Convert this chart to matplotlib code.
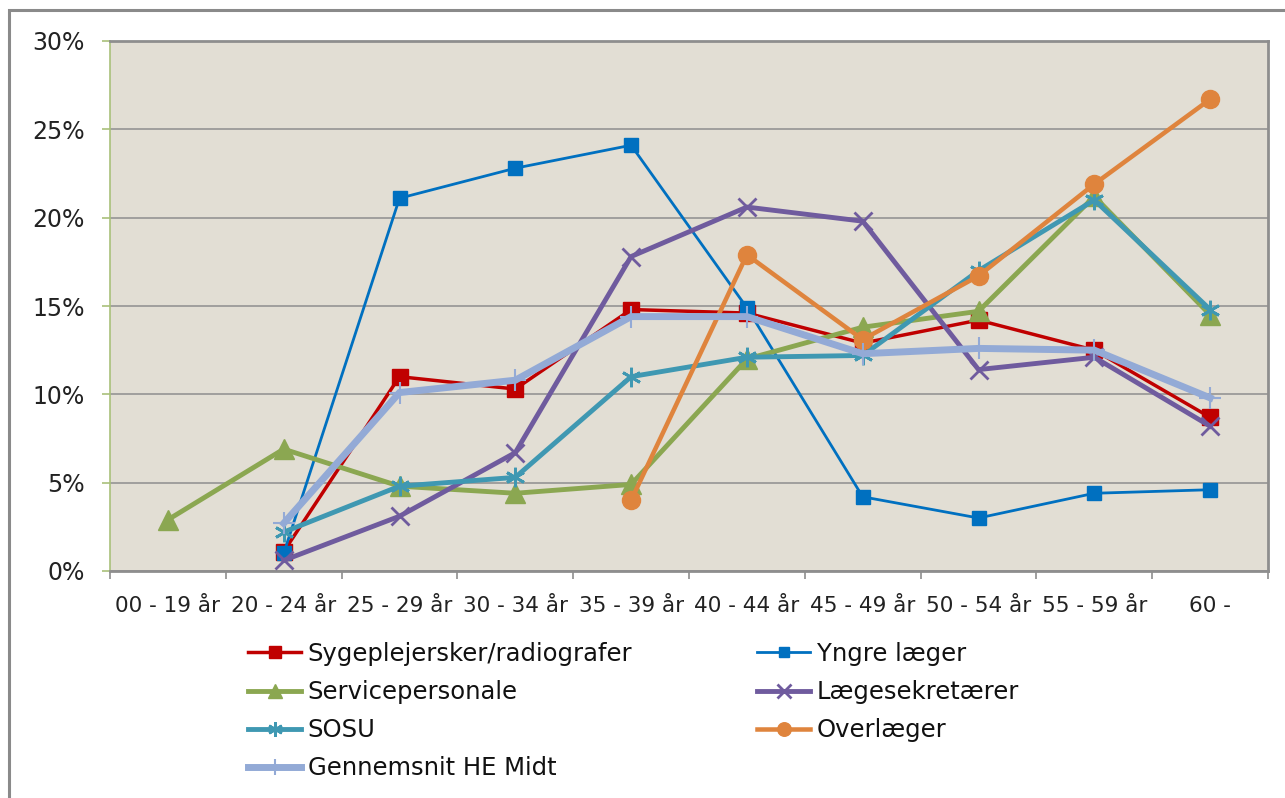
import numpy as np
import matplotlib
matplotlib.use("Agg")
import matplotlib.pyplot as plt
from matplotlib.patches import Rectangle
from matplotlib.ticker import FixedLocator, PercentFormatter

# age groups
categories = ["00 - 19 år", "20 - 24 år", "25 - 29 år", "30 - 34 år", "35 - 39 år",
              "40 - 44 år", "45 - 49 år", "50 - 54 år", "55 - 59 år", "60 -"]
nan = np.nan

# share per age group, in percent
sygeplejersker = [nan, 1.1, 11.0, 10.3, 14.8, 14.6, 12.9, 14.2, 12.5, 8.7]
yngre_laeger = [nan, 1.0, 21.1, 22.8, 24.1, 14.9, 4.2, 3.0, 4.4, 4.6]
service = [2.9, 6.9, 4.8, 4.4, 4.9, 12.0, 13.8, 14.7, 21.2, 14.5]
laegesekretaerer = [nan, 0.6, 3.1, 6.7, 17.8, 20.6, 19.8, 11.4, 12.1, 8.2]
sosu = [nan, 2.2, 4.8, 5.3, 11.0, 12.1, 12.2, 17.0, 21.0, 14.8]
overlaeger = [nan, nan, nan, nan, 4.0, 17.9, 13.1, 16.7, 21.9, 26.7]
gennemsnit = [nan, 2.7, 10.1, 10.8, 14.4, 14.4, 12.3, 12.6, 12.5, 9.8]

series = [
    ("Sygeplejersker/radiografer", sygeplejersker, "#C00000", 2.5, "s", 11, 1),
    ("Yngre læger", yngre_laeger, "#0070C0", 2.0, "s", 10.5, 1),
    ("Servicepersonale", service, "#8BA751", 3.5, "^", 14, 1),
    ("Lægesekretærer", laegesekretaerer, "#6F5B9E", 3.5, "x", 13, 2),
    ("SOSU", sosu, "#3F98B2", 3.5, (6, 2, 0), 14, 2),
    ("Overlæger", overlaeger, "#DF843D", 3.25, "o", 13, 1),
    ("Gennemsnit HE Midt", gennemsnit, "#93AAD6", 5.0, "+", 16, 1.5),
]

W, H = 1285, 798
fig = plt.figure(figsize=(W / 100, H / 100), dpi=100)
ax = fig.add_axes([110 / W, 1 - 571 / H, (1268 - 110) / W, (571 - 41) / H])
ax.set_facecolor("#E2DED4")

x = np.arange(len(categories))
handles = []
for i, (name, vals, col, lw, mk, ms, mew) in enumerate(series):
    ln, = ax.plot(x, vals, color=col, lw=lw, marker=mk, markersize=ms,
                  markeredgewidth=mew, markeredgecolor=col, markerfacecolor=col,
                  label=name, zorder=3 + i, solid_joinstyle="miter")
    handles.append(ln)

ax.set_xlim(-0.5, len(categories) - 0.5)
ax.set_ylim(0, 30)
ax.yaxis.set_major_locator(FixedLocator([0, 5, 10, 15, 20, 25, 30]))
ax.yaxis.set_major_formatter(PercentFormatter(decimals=0))
ax.grid(axis="y", color="#8E8E8E", lw=1.1, zorder=1)
ax.set_axisbelow(True)

# x ticks at category boundaries, labels at centres
ax.set_xticks(np.arange(-0.5, len(categories)), labels=[])
ax.set_xticks(x, labels=categories, minor=True)
ax.tick_params(axis="x", which="major", length=6, width=1.2, color="#8E8E8E", direction="out")
ax.tick_params(axis="x", which="minor", length=0, pad=18, labelsize=15.5, labelcolor="#222222")
ax.tick_params(axis="y", length=6, width=1.2, color="#A9C07A", pad=12, labelsize=17, labelcolor="#222222")

for side in ["top", "right", "bottom"]:
    ax.spines[side].set_color("#8E8E8E")
    ax.spines[side].set_linewidth(2)
ax.spines["left"].set_color("#A9C07A")
ax.spines["left"].set_linewidth(1.2)

# outer chart frame
fig.patches.append(Rectangle((9 / W, -0.1), 1.2, 1.1 - 10 / H, transform=fig.transFigure,
                             fill=False, edgecolor="#8A8A8A", lw=2.2))

leg_kw = dict(loc="upper left", frameon=False, fontsize=17.5, borderpad=0, borderaxespad=0,
              handlelength=2.2, handletextpad=0.25, labelspacing=0.58, markerscale=0.75,
              labelcolor="#111111")
col1 = [handles[0], handles[2], handles[4], handles[6]]
col2 = [handles[1], handles[3], handles[5]]
fig.legend(handles=col1, labels=[h.get_label() for h in col1],
           bbox_to_anchor=(248 / W, 1 - 642 / H), **leg_kw)
fig.legend(handles=col2, labels=[h.get_label() for h in col2],
           bbox_to_anchor=(757 / W, 1 - 642 / H), **leg_kw)

fig.savefig("out.png", dpi=100)
